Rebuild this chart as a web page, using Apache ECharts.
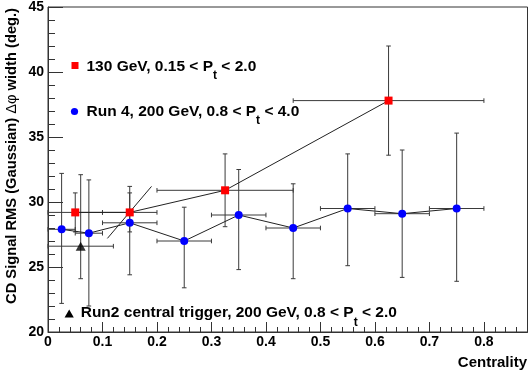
<!DOCTYPE html>
<html><head><meta charset="utf-8">
<script src="https://cdn.jsdelivr.net/npm/echarts@6/dist/echarts.min.js"></script>
<style>html,body{margin:0;padding:0;background:#fff}#c{width:531px;height:373px}</style>
</head><body><div id="c"></div>
<script>
// ---- data ----
const blueX   = [0.025, 0.075, 0.15, 0.25, 0.35, 0.45, 0.55, 0.65, 0.75];
const blueY   = [27.9, 27.6, 28.4, 27.0, 29.0, 28.0, 29.5, 29.1, 29.5];
const blueXLo = [0, 0.05, 0.1, 0.2, 0.3, 0.4, 0.5, 0.6, 0.7];
const blueXHi = [0.05, 0.1, 0.2, 0.3, 0.4, 0.5, 0.6, 0.7, 0.8];
const blueYLo = [22.2, 22.0, 24.4, 23.4, 24.8, 24.1, 25.1, 24.2, 23.9];
const blueYHi = [32.2, 31.7, 31.2, 29.6, 32.5, 31.4, 33.7, 34.0, 35.3];

const redX   = [0.05, 0.15, 0.325, 0.625];
const redY   = [29.2, 29.2, 30.9, 37.8];
const redXLo = [0, 0.1, 0.2, 0.45];
const redXHi = [0.1, 0.2, 0.45, 0.8];
const redYLo = [27.7, 27.7, 28.1, 33.6];
const redYHi = [30.7, 30.7, 33.7, 42.0];

const triX   = [0.06];
const triY   = [26.6];
const triXLo = [0];
const triXHi = [0.12];
const triYLo = [24.1];
const triYHi = [32.1];

// stray straight segment drawn through the second red point
const segX = [0.109, 0.19];
const segY = [27.2, 31.2];

const xMin = 0, xMax = 0.88, xMajor = 0.1, xMinor = 0.02;
const yMin = 20, yMax = 45, yMajor = 5;

const legendRed  = [['130 GeV, 0.15 < P', 0], ['t', 1], [' < 2.0', 0]];
const legendBlue = [['Run 4, 200 GeV, 0.8 < P', 0], ['t', 1], [' < 4.0', 0]];
const legendTri  = [['Run2 central trigger, 200 GeV, 0.8 < P', 0], ['t', 1], [' < 2.0', 0]];
const yTitle = [['CD Signal RMS (Gaussian) ', 0], ['\u0394\u03c6', 2], [' width (deg.)', 0]];
const xTitle = 'Centrality';

// ---- helpers ----
const FF = '"Liberation Sans", Arial, Helvetica, sans-serif';
const mctx = document.createElement('canvas').getContext('2d');
function fontOf(kind, size) {
  return (kind === 2 ? 'normal ' : 'bold ') + size + 'px ' + FF;
}
function measure(t, f) { mctx.font = f; return mctx.measureText(t).width; }

// builds text pieces along a baseline; kind 0 normal, 1 subscript, 2 non-bold
function textPieces(parts, size, subSize, subDrop) {
  const out = [];
  let x = 0;
  parts.forEach(([t, kind]) => {
    const s = kind === 1 ? subSize : size;
    const f = fontOf(kind, s);
    out.push({
      type: 'text', x: x, y: (kind === 1 ? subDrop : 0) - 0.34 * s,
      style: { text: t, font: f, fill: '#000', align: 'left', verticalAlign: 'middle' },
      silent: true
    });
    x += measure(t, f);
  });
  return { pieces: out, width: x };
}

function errData(xs, ys, xlo, xhi, ylo, yhi) {
  return xs.map((x, i) => [x, ys[i], xlo[i], xhi[i], ylo[i], yhi[i]]);
}
function errRender(params, api) {
  const x = api.value(0), y = api.value(1);
  const l = api.coord([api.value(2), y]);
  const r = api.coord([api.value(3), y]);
  const b = api.coord([x, api.value(4)]);
  const t = api.coord([x, api.value(5)]);
  const c = 2.3;
  const segs = [
    [l, r], [t, b],
    [[l[0], l[1] - c], [l[0], l[1] + c]],
    [[r[0], r[1] - c], [r[0], r[1] + c]],
    [[t[0] - c, t[1]], [t[0] + c, t[1]]],
    [[b[0] - c, b[1]], [b[0] + c, b[1]]]
  ];
  return {
    type: 'group',
    children: segs.map(s => ({
      type: 'line',
      shape: { x1: s[0][0], y1: s[0][1], x2: s[1][0], y2: s[1][1] },
      style: { stroke: '#3a3a3a', lineWidth: 1 }
    }))
  };
}

const chart = echarts.init(document.getElementById('c'), null, { renderer: 'canvas' });

const L1 = textPieces(legendRed, 15.5, 12, 8);
const L2 = textPieces(legendBlue, 15.5, 12, 8);
const L3 = textPieces(legendTri, 15.5, 12, 8);
const YT = textPieces(yTitle, 14.7, 10, 0);

const axisCol = '#333';
const labelStyle = { color: '#000', fontFamily: FF, fontWeight: 'bold', fontSize: 14 };

chart.setOption({
  animation: false,
  backgroundColor: '#fff',
  grid: { left: 48, top: 7, right: 3.5, bottom: 41, show: true, borderColor: axisCol, borderWidth: 1, backgroundColor: 'transparent' },
  xAxis: [{
    type: 'value', min: xMin, max: xMax, interval: xMajor,
    axisLine: { show: true, lineStyle: { color: axisCol, width: 1 } },
    axisTick: { show: true, inside: true, length: 10, lineStyle: { color: axisCol } },
    minorTick: { show: false },
    splitLine: { show: false },
    axisLabel: Object.assign({ margin: 3, showMaxLabel: false,
      formatter: v => (Math.abs(v) < 1e-9 ? '0' : (Math.round(v * 10) / 10).toString()) }, labelStyle)
  }, {
    type: 'value', min: xMin, max: xMax, interval: xMinor, position: 'bottom',
    axisLine: { show: false },
    axisTick: { show: true, inside: true, length: 5, lineStyle: { color: axisCol } },
    axisLabel: { show: false },
    splitLine: { show: false }
  }],
  yAxis: {
    type: 'value', min: yMin, max: yMax, interval: yMajor,
    axisLine: { show: true, lineStyle: { color: axisCol, width: 1 } },
    axisTick: { show: true, inside: true, length: 15, lineStyle: { color: axisCol } },
    minorTick: { show: true, splitNumber: 5, length: 7, lineStyle: { color: axisCol } },
    splitLine: { show: false },
    axisLabel: Object.assign({ margin: 4 }, labelStyle)
  },
  series: [
    { type: 'custom', renderItem: errRender, data: errData(blueX, blueY, blueXLo, blueXHi, blueYLo, blueYHi), z: 2, silent: true, encode: { x: [0, 2, 3], y: [1, 4, 5] } },
    { type: 'custom', renderItem: errRender, data: errData(redX, redY, redXLo, redXHi, redYLo, redYHi), z: 2, silent: true, encode: { x: [0, 2, 3], y: [1, 4, 5] } },
    { type: 'custom', renderItem: errRender, data: errData(triX, triY, triXLo, triXHi, triYLo, triYHi), z: 2, silent: true, encode: { x: [0, 2, 3], y: [1, 4, 5] } },
    { type: 'line', data: segX.map((x, i) => [x, segY[i]]), showSymbol: false, symbol: 'none',
      lineStyle: { color: '#222', width: 1 }, z: 3, silent: true },
    { type: 'line', data: redX.map((x, i) => [x, redY[i]]), symbol: 'rect', symbolSize: 8,
      itemStyle: { color: '#ff0000' }, lineStyle: { color: '#222', width: 1 }, z: 4, silent: true },
    { type: 'line', data: blueX.map((x, i) => [x, blueY[i]]), symbol: 'circle', symbolSize: 8,
      itemStyle: { color: '#0000ff' }, lineStyle: { color: '#222', width: 1 }, z: 4, silent: true },
    { type: 'scatter', data: triX.map((x, i) => [x, triY[i]]), symbol: 'triangle', symbolSize: [10, 9],
      itemStyle: { color: '#000' }, z: 4, silent: true }
  ],
  graphic: [
    { type: 'rect', shape: { x: 71.5, y: 62, width: 7, height: 7 }, style: { fill: '#ff0000' }, silent: true },
    { type: 'group', x: 86.5, y: 71.7, children: L1.pieces },
    { type: 'circle', shape: { cx: 74.5, cy: 111.5, r: 3.6 }, style: { fill: '#0000ff' }, silent: true },
    { type: 'group', x: 86.5, y: 116.7, children: L2.pieces },
    { type: 'polygon', shape: { points: [[69.2, 309.5], [73.8, 317.5], [64.6, 317.5]] }, style: { fill: '#000' }, silent: true },
    { type: 'group', x: 80.7, y: 318.3, children: L3.pieces },
    { type: 'group', x: 17, y: 8 + YT.width, rotation: Math.PI / 2, children: YT.pieces },
    { type: 'text', x: 527, y: 363, style: { text: xTitle, font: 'bold 15px ' + FF, fill: '#000', align: 'right', verticalAlign: 'middle' }, silent: true }
  ]
});
</script>
</body></html>
